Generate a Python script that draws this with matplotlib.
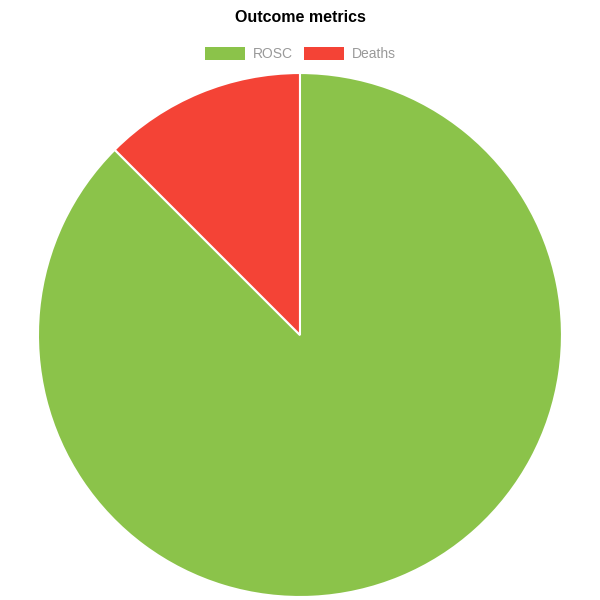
import matplotlib.pyplot as plt

plt.rcParams['font.family'] = ['Liberation Sans', 'DejaVu Sans']

labels = ['ROSC', 'Deaths']
values = [7, 1]
colors = ['#8BC34A', '#F44336']

fig = plt.figure(figsize=(6, 6), dpi=100)
ax = fig.add_axes([0.0633, 0.005, 0.8733, 0.8733])

wedges, _ = ax.pie(values, colors=colors, startangle=90, counterclock=False,
                   radius=1, wedgeprops=dict(edgecolor='white', linewidth=1.5))
ax.set_xlim(-1, 1)
ax.set_ylim(-1, 1)
ax.set_aspect('equal')
ax.axis('off')

fig.text(0.5, 1 - 18 / 600, 'Outcome metrics', ha='center', va='center',
         fontsize=11.5, fontweight='bold', color='black')

leg = fig.legend(wedges, labels, loc='center', bbox_to_anchor=(0.5, 1 - 54 / 600),
                 ncol=2, frameon=False, fontsize=10, handlelength=2.9, handleheight=1.1,
                 handletextpad=0.55, columnspacing=0.8)
for t in leg.get_texts():
    t.set_color('#999999')
for h in leg.legend_handles:
    h.set_edgecolor('none')

fig.savefig('out.png', dpi=100)
